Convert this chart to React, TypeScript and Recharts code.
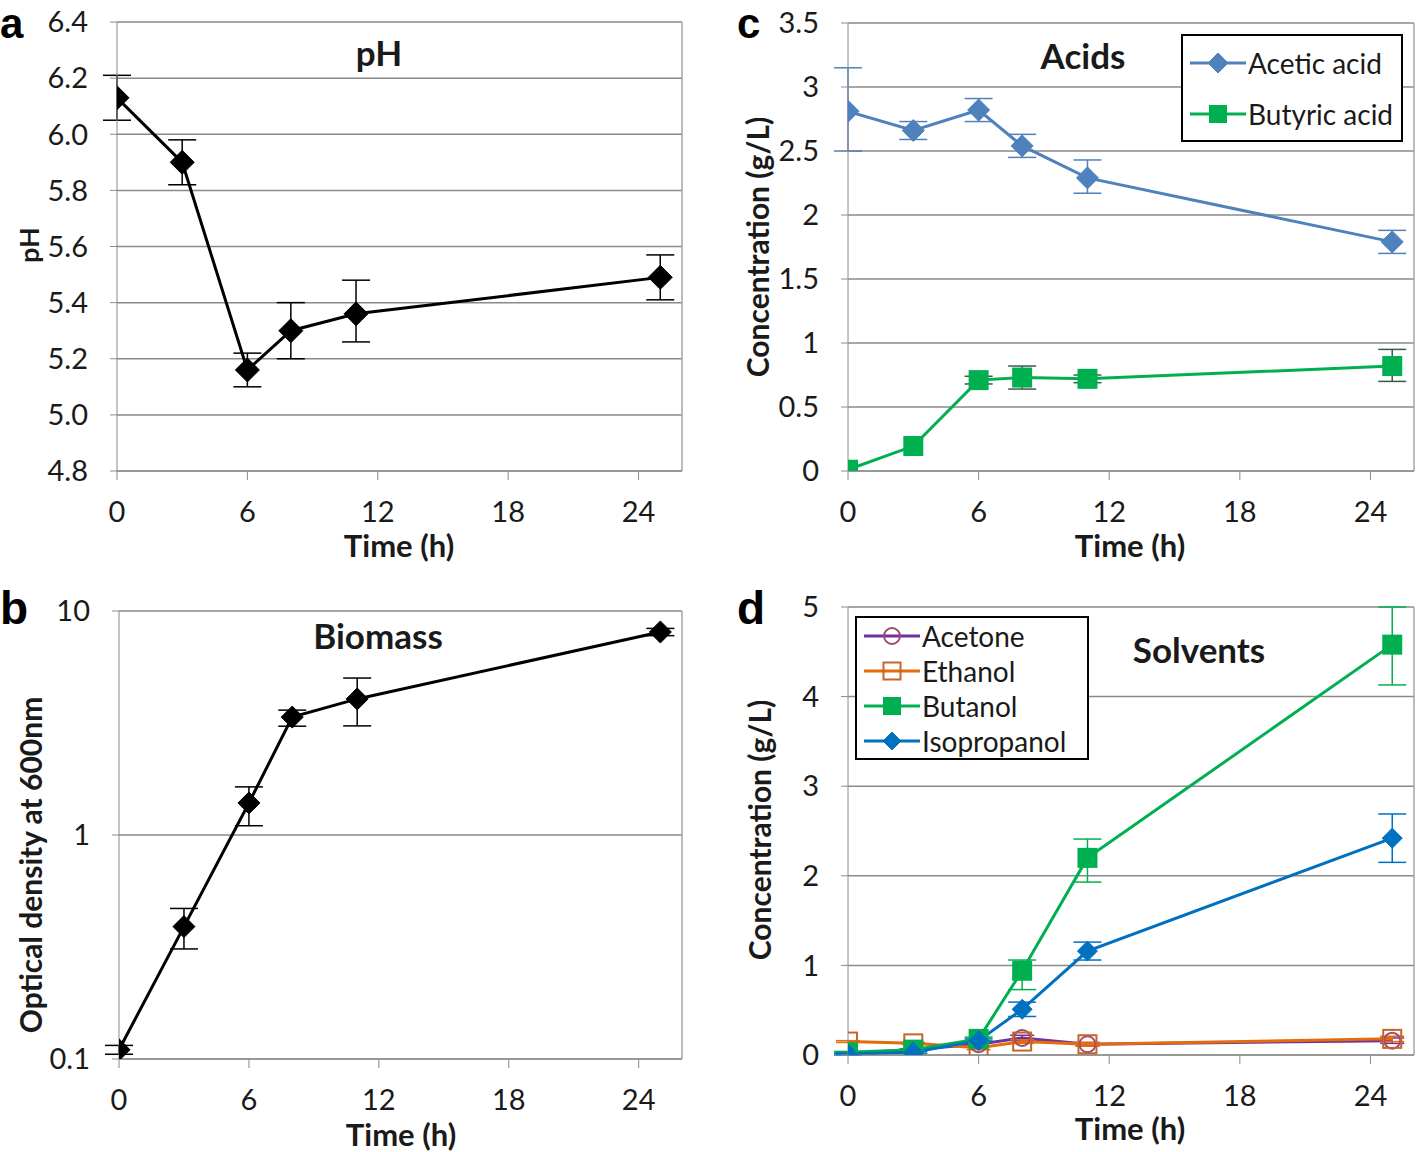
import React from 'react';
import { LineChart, Line, XAxis, YAxis, CartesianGrid, ErrorBar, ReferenceLine, Legend } from 'recharts';

// ---------- data ----------
const timeH = [0, 3, 6, 8, 11, 25];
const timeTicks = [0, 6, 12, 18, 24];

const phValues = [6.13, 5.9, 5.16, 5.3, 5.36, 5.49];
const phErrors: any[] = [0.08, 0.08, 0.06, 0.1, [0.1, 0.12], 0.08];
const phTicks = [4.8, 5.0, 5.2, 5.4, 5.6, 5.8, 6.0, 6.2, 6.4];

const odValues = [0.11, 0.39, 1.39, 3.36, 4.05, 8.06];
const odErrors: any[] = [[0.005, 0.005], [0.08, 0.08], [0.29, 0.25], [0.3, 0.25], [0.98, 0.97], [0.3, 0.3]];
const odTicks = [0.1, 1, 10];

const aceticValues = [2.81, 2.66, 2.82, 2.54, 2.29, 1.79];
const aceticErrors: any[] = [[0.31, 0.34], 0.07, 0.09, 0.09, [0.12, 0.14], 0.09];
const butyricValues = [0.01, 0.195, 0.71, 0.73, 0.72, 0.82];
const butyricErrors: any[] = [0, 0, 0.03, 0.09, 0.03, [0.12, 0.13]];
const acidTicks = [0, 0.5, 1, 1.5, 2, 2.5, 3, 3.5];

const acetoneValues = [0.02, 0.06, 0.12, 0.19, 0.12, 0.16];
const acetoneErrors: any[] = [0.01, 0.01, 0.02, 0.03, 0.02, 0.03];
const ethanolValues = [0.15, 0.13, 0.08, 0.15, 0.12, 0.18];
const ethanolErrors: any[] = [0.01, 0.01, 0.02, 0.02, 0.02, 0.03];
const butanolValues = [0.03, 0.06, 0.18, 0.94, 2.2, 4.58];
const butanolErrors: any[] = [0.01, 0.01, 0.02, [0.21, 0.12], [0.27, 0.21], [0.45, 0.42]];
const isopropanolValues = [0.01, 0.03, 0.16, 0.51, 1.16, 2.42];
const isopropanolErrors: any[] = [0.01, 0.01, 0.02, 0.08, 0.1, 0.27];
const solventTicks = [0, 1, 2, 3, 4, 5];

const acidNames = ['Acetic acid', 'Butyric acid'];
const solventNames = ['Acetone', 'Ethanol', 'Butanol', 'Isopropanol'];

// ---------- tables ----------
const phData = timeH.map((t, i) => ({ t, v: phValues[i], e: phErrors[i] }));
const odData = timeH.map((t, i) => ({ t, v: odValues[i], e: odErrors[i] }));
const acidData = timeH.map((t, i) => ({
  t,
  acetic: aceticValues[i], aceticE: aceticErrors[i],
  butyric: butyricValues[i], butyricE: butyricErrors[i],
}));
const solventData = timeH.map((t, i) => ({
  t,
  acetone: acetoneValues[i], acetoneE: acetoneErrors[i],
  ethanol: ethanolValues[i], ethanolE: ethanolErrors[i],
  butanol: butanolValues[i], butanolE: butanolErrors[i],
  isopropanol: isopropanolValues[i], isopropanolE: isopropanolErrors[i],
}));

// ---------- styles ----------
const FONT = 'Lato, "Open Sans", sans-serif';
const GRID = '#8a8a8a';
const tickStyle = { fontSize: 29, fontFamily: FONT, fill: '#1a1a1a' };

const C_ACETIC = '#4F81BD';
const C_GREEN = '#00B050';
const C_ISO = '#0070C0';
const C_ACETONE = '#7030A0';
const C_ACETONE_M = '#9C4A6E';
const C_ETHANOL = '#E46C0A';
const C_ETHANOL_M = '#C8642A';

type Shape = 'diamond' | 'square' | 'circle' | 'hsquare';

function Marker({ shape, cx, cy, color, size }: { shape: Shape; cx: number; cy: number; color: string; size: number }) {
  const r = size / 2;
  if (shape === 'diamond')
    return <polygon points={`${cx},${cy - r} ${cx + r},${cy} ${cx},${cy + r} ${cx - r},${cy}`} fill={color} stroke={color} strokeWidth={1} />;
  if (shape === 'square') return <rect x={cx - r} y={cy - r} width={size} height={size} fill={color} />;
  if (shape === 'circle') return <circle cx={cx} cy={cy} r={r} fill="none" stroke={color} strokeWidth={2} />;
  return <rect x={cx - r} y={cy - r} width={size} height={size} fill="none" stroke={color} strokeWidth={2} />;
}

const makeDot = (shape: Shape, color: string, size: number) => (props: any) => {
  const { cx, cy, index } = props;
  if (cx == null || cy == null) return <g key={`n${index}`} />;
  return <Marker key={`d${index}`} shape={shape} cx={cx} cy={cy} color={color} size={size} />;
};

type LegItem = { name: string; color: string; mcolor: string; shape: Shape; size: number };

const makeLegend = (items: LegItem[], rowH: number, padY: number, fontSize: number) => () => (
  <div style={{ border: '2px solid #000', background: '#fff', padding: `${padY}px 6px`, boxSizing: 'border-box' }}>
    {items.map((it) => (
      <div key={it.name} style={{ display: 'flex', alignItems: 'center', height: rowH }}>
        <svg width={58} height={30} style={{ flex: 'none' }}>
          <line x1={1} y1={15} x2={57} y2={15} stroke={it.color} strokeWidth={3} />
          <Marker shape={it.shape} cx={29} cy={15} color={it.mcolor} size={it.size} />
        </svg>
        <span style={{ fontFamily: FONT, fontSize, color: '#1a1a1a', whiteSpace: 'nowrap', marginLeft: 1 }}>{it.name}</span>
      </div>
    ))}
  </div>
);

const acidLegend: LegItem[] = [
  { name: acidNames[0], color: C_ACETIC, mcolor: C_ACETIC, shape: 'diamond', size: 20 },
  { name: acidNames[1], color: C_GREEN, mcolor: C_GREEN, shape: 'square', size: 18 },
];
const solventLegend: LegItem[] = [
  { name: solventNames[0], color: C_ACETONE, mcolor: C_ACETONE_M, shape: 'circle', size: 16 },
  { name: solventNames[1], color: C_ETHANOL, mcolor: C_ETHANOL_M, shape: 'hsquare', size: 17 },
  { name: solventNames[2], color: C_GREEN, mcolor: C_GREEN, shape: 'square', size: 18 },
  { name: solventNames[3], color: C_ISO, mcolor: C_ISO, shape: 'diamond', size: 18 },
];

const xAxisProps = {
  dataKey: 't',
  type: 'number' as const,
  domain: [0, 26],
  ticks: timeTicks,
  tick: tickStyle,
  tickSize: 9,
  tickMargin: 21,
  height: 60,
  stroke: GRID,
  allowDataOverflow: true,
};

const yCommon = {
  tick: tickStyle,
  tickSize: 7,
  tickMargin: 22,
  stroke: GRID,
  allowDataOverflow: true,
};

function PanelA() {
  return (
    <LineChart width={709} height={580} data={phData} margin={{ top: 22, right: 27, bottom: 49, left: 0 }}>
      <CartesianGrid vertical={false} stroke={GRID} strokeWidth={1.5} />
      <XAxis {...xAxisProps} />
      <YAxis {...yCommon} width={117} domain={[4.8, 6.4]} ticks={phTicks} tickFormatter={(v: number) => v.toFixed(1)} />
      <ReferenceLine x={26} stroke="#a5a5a5" strokeWidth={1.5} />
      <Line dataKey="v" stroke="#000" strokeWidth={3} isAnimationActive={false} dot={makeDot('diamond', '#000', 24)} activeDot={false}>
        <ErrorBar dataKey="e" direction="y" width={14} stroke="#000" strokeWidth={1.5} />
      </Line>
    </LineChart>
  );
}

function PanelB() {
  return (
    <LineChart width={709} height={572} data={odData} margin={{ top: 31, right: 27, bottom: 33, left: 0 }}>
      <CartesianGrid vertical={false} stroke={GRID} strokeWidth={1.5} />
      <XAxis {...xAxisProps} />
      <YAxis {...yCommon} width={119} scale="log" domain={[0.1, 10]} ticks={odTicks} />
      <ReferenceLine x={26} stroke="#a5a5a5" strokeWidth={1.5} />
      <Line dataKey="v" stroke="#000" strokeWidth={3} isAnimationActive={false} dot={makeDot('diamond', '#000', 22)} activeDot={false}>
        <ErrorBar dataKey="e" direction="y" width={14} stroke="#000" strokeWidth={1.5} />
      </Line>
    </LineChart>
  );
}

function PanelC() {
  return (
    <LineChart width={709} height={580} data={acidData} margin={{ top: 23, right: 4, bottom: 49, left: 0 }}>
      <CartesianGrid vertical={false} stroke={GRID} strokeWidth={1.5} />
      <XAxis {...xAxisProps} />
      <YAxis {...yCommon} width={139} domain={[0, 3.5]} ticks={acidTicks} />
      <ReferenceLine x={26} stroke="#a5a5a5" strokeWidth={1.5} />
      <Legend layout="vertical" align="center" verticalAlign="middle"
        wrapperStyle={{ left: 472, top: 34, width: 222 }}
        content={makeLegend(acidLegend, 51, 1, 28)} />
      <Line name={acidNames[0]} dataKey="acetic" stroke={C_ACETIC} strokeWidth={3} isAnimationActive={false} dot={makeDot('diamond', C_ACETIC, 22)} activeDot={false}>
        <ErrorBar dataKey="aceticE" direction="y" width={14} stroke={C_ACETIC} strokeWidth={1.5} />
      </Line>
      <Line name={acidNames[1]} dataKey="butyric" stroke={C_GREEN} strokeWidth={3} isAnimationActive={false} dot={makeDot('square', C_GREEN, 20)} activeDot={false}>
        <ErrorBar dataKey="butyricE" direction="y" width={14} stroke="#3a5a48" strokeWidth={1.5} />
      </Line>
    </LineChart>
  );
}

function PanelD() {
  return (
    <LineChart width={709} height={572} data={solventData} margin={{ top: 27, right: 4, bottom: 37, left: 0 }}>
      <CartesianGrid vertical={false} stroke={GRID} strokeWidth={1.5} />
      <XAxis {...xAxisProps} />
      <YAxis {...yCommon} width={139} domain={[0, 5]} ticks={solventTicks} />
      <ReferenceLine x={26} stroke="#a5a5a5" strokeWidth={1.5} />
      <Legend layout="vertical" align="center" verticalAlign="middle"
        wrapperStyle={{ left: 146, top: 36, width: 234 }}
        content={makeLegend(solventLegend, 35, 0, 28)} />
      <Line name={solventNames[0]} dataKey="acetone" stroke={C_ACETONE} strokeWidth={3} isAnimationActive={false} dot={makeDot('circle', C_ACETONE_M, 16)} activeDot={false}>
        <ErrorBar dataKey="acetoneE" direction="y" width={12} stroke={C_ACETONE} strokeWidth={1.5} />
      </Line>
      <Line name={solventNames[1]} dataKey="ethanol" stroke={C_ETHANOL} strokeWidth={3} isAnimationActive={false} dot={makeDot('hsquare', C_ETHANOL_M, 18)} activeDot={false}>
        <ErrorBar dataKey="ethanolE" direction="y" width={12} stroke={C_ETHANOL} strokeWidth={1.5} />
      </Line>
      <Line name={solventNames[2]} dataKey="butanol" stroke={C_GREEN} strokeWidth={3} isAnimationActive={false} dot={makeDot('square', C_GREEN, 20)} activeDot={false}>
        <ErrorBar dataKey="butanolE" direction="y" width={14} stroke={C_GREEN} strokeWidth={1.5} />
      </Line>
      <Line name={solventNames[3]} dataKey="isopropanol" stroke={C_ISO} strokeWidth={3} isAnimationActive={false} dot={makeDot('diamond', C_ISO, 20)} activeDot={false}>
        <ErrorBar dataKey="isopropanolE" direction="y" width={14} stroke={C_ISO} strokeWidth={1.5} />
      </Line>
    </LineChart>
  );
}

const boldText = { fontFamily: FONT, fontWeight: 700, fill: '#1a1a1a' } as const;

const letterStyle = (left: number, top: number, size: number): React.CSSProperties => ({
  position: 'absolute', left, top, lineHeight: 'normal',
  fontFamily: '"Liberation Sans", Arial, sans-serif', fontWeight: 700, fontSize: size, color: '#000',
});

function Overlay() {
  return (
    <svg width={1418} height={1152} style={{ position: 'absolute', left: 0, top: 0, pointerEvents: 'none' }}>
      {/* panel titles */}
      <text x={379} y={52} textAnchor="middle" dominantBaseline="central" fontSize={35} {...boldText}>pH</text>
      <text x={378} y={635} textAnchor="middle" dominantBaseline="central" fontSize={35} {...boldText}>Biomass</text>
      <text x={1083} y={55} textAnchor="middle" dominantBaseline="central" fontSize={35} {...boldText}>Acids</text>
      <text x={1199} y={649} textAnchor="middle" dominantBaseline="central" fontSize={35} {...boldText}>Solvents</text>
      {/* x axis titles */}
      <text x={399} y={545} textAnchor="middle" dominantBaseline="central" fontSize={31} {...boldText}>Time (h)</text>
      <text x={401} y={1134} textAnchor="middle" dominantBaseline="central" fontSize={31} {...boldText}>Time (h)</text>
      <text x={1130} y={545} textAnchor="middle" dominantBaseline="central" fontSize={31} {...boldText}>Time (h)</text>
      <text x={1130} y={1128} textAnchor="middle" dominantBaseline="central" fontSize={31} {...boldText}>Time (h)</text>
      {/* y axis titles */}
      <text x={28} y={245} transform="rotate(-90 28 245)" textAnchor="middle" dominantBaseline="central" fontSize={27} {...boldText}>pH</text>
      <text x={30} y={865} transform="rotate(-90 30 865)" textAnchor="middle" dominantBaseline="central" fontSize={30} {...boldText}>Optical density at 600nm</text>
      <text x={757} y={247} transform="rotate(-90 757 247)" textAnchor="middle" dominantBaseline="central" fontSize={30} {...boldText}>Concentration (g/L)</text>
      <text x={759} y={830} transform="rotate(-90 759 830)" textAnchor="middle" dominantBaseline="central" fontSize={30} {...boldText}>Concentration (g/L)</text>
    </svg>
  );
}

export default function App() {
  return (
    <div style={{ position: 'absolute', left: 0, top: 0, width: 1418, height: 1152, background: '#fff', overflow: 'hidden' }}>
      <div style={{ position: 'absolute', left: 0, top: 0 }}><PanelA /></div>
      <div style={{ position: 'absolute', left: 0, top: 580 }}><PanelB /></div>
      <div style={{ position: 'absolute', left: 709, top: 0 }}><PanelC /></div>
      <div style={{ position: 'absolute', left: 709, top: 580 }}><PanelD /></div>
      <Overlay />
      <div style={letterStyle(0, 0, 42)}>a</div>
      <div style={letterStyle(0, 581, 46)}>b</div>
      <div style={letterStyle(737, 0, 42)}>c</div>
      <div style={letterStyle(737, 581, 46)}>d</div>
    </div>
  );
}
